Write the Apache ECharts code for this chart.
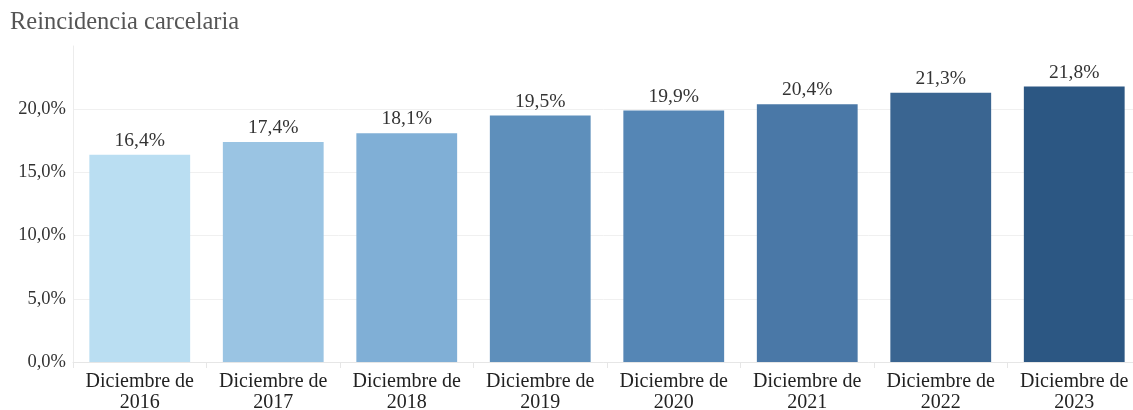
<!DOCTYPE html>
<html>
<head>
<meta charset="utf-8">
<script src="https://cdn.jsdelivr.net/npm/echarts@6/dist/echarts.min.js"></script>
<style>
html,body{margin:0;padding:0;background:#fff;}
#chart{width:1133px;height:410px;}
</style>
</head>
<body>
<div id="chart"></div>
<script>
const categories = ["Diciembre de\n2016","Diciembre de\n2017","Diciembre de\n2018","Diciembre de\n2019","Diciembre de\n2020","Diciembre de\n2021","Diciembre de\n2022","Diciembre de\n2023"];
const values = [16.4, 17.4, 18.1, 19.5, 19.9, 20.4, 21.3, 21.8];
const barColors = ["#badef2","#9ac4e3","#80afd6","#5e8fbb","#5586b5","#4a78a7","#3a6591","#2c5783"];
const yTicks = [0, 5, 10, 15, 20];

const fmt = v => v.toFixed(1).replace('.', ',') + '%';

const chart = echarts.init(document.getElementById('chart'), null, {renderer:'canvas'});
chart.setOption({
  animation: false,
  backgroundColor: '#fff',
  title: {
    text: 'Reincidencia carcelaria',
    left: 5, top: 5,
    textStyle: {fontFamily: 'Liberation Serif', fontSize: 24.5, fontWeight: 'normal', color: '#555'}
  },
  grid: {left: 73, width: 1068, top: 46, height: 316, containLabel: false, outerBoundsMode: 'none'},
  xAxis: {
    type: 'category',
    data: categories,
    axisLine: {show: true, lineStyle: {color: '#e6e6e6'}},
    axisTick: {show: true, length: 6, lineStyle: {color: '#e6e6e6'}},
    axisLabel: {fontFamily: 'Liberation Serif', fontSize: 20, color: '#222', lineHeight: 21, margin: 9, interval: 0}
  },
  yAxis: {
    type: 'value',
    min: 0, max: 25, interval: 5,
    axisLine: {show: true, lineStyle: {color: '#ececec'}},
    axisTick: {show: false},
    splitLine: {show: true, lineStyle: {color: ['#f0f0f0','#f0f0f0','#f0f0f0','#f0f0f0','#f0f0f0','rgba(0,0,0,0)']}},
    axisLabel: {
      fontFamily: 'Liberation Serif', fontSize: 18.5, color: '#333', margin: 7,
      formatter: v => yTicks.includes(v) ? fmt(v) : ''
    }
  },
  series: [{
    type: 'bar',
    barWidth: '75.5%',
    data: values.map((v, i) => ({value: v, itemStyle: {color: barColors[i]}})),
    label: {
      show: true, position: 'top', distance: 4,
      fontFamily: 'Liberation Serif', fontSize: 19.5, color: '#333',
      formatter: p => fmt(p.value)
    }
  }]
});
</script>
</body>
</html>
